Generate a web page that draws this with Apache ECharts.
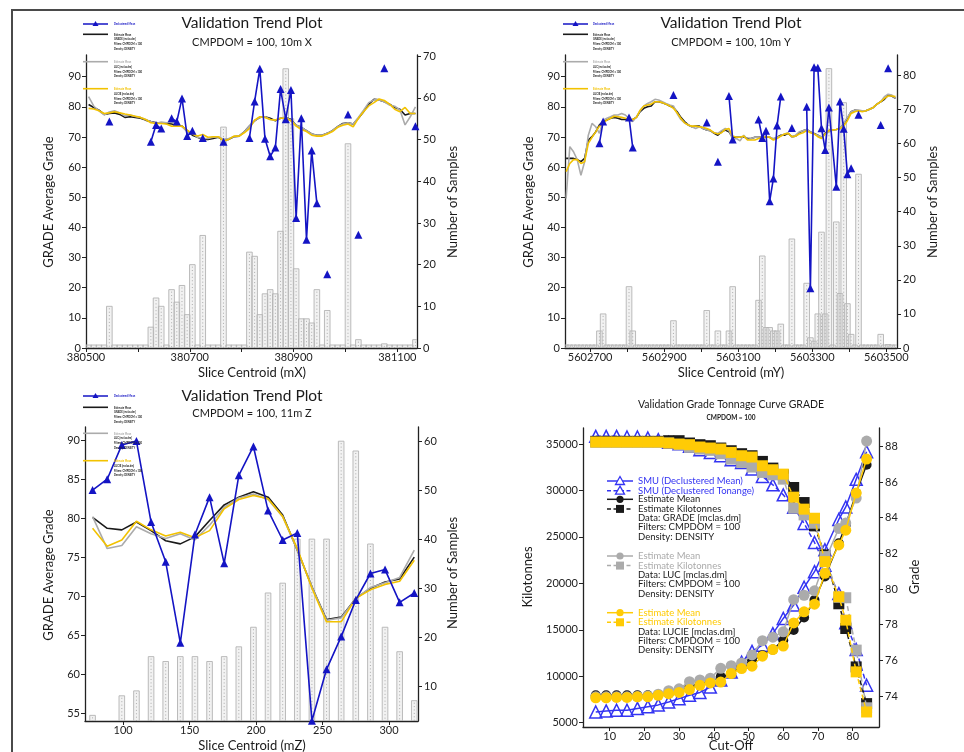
<!DOCTYPE html>
<html><head><meta charset="utf-8">
<script src="https://cdn.jsdelivr.net/npm/echarts@6/dist/echarts.min.js"></script>
<style>html,body{margin:0;padding:0;background:#fff}#c{width:964px;height:752px}</style>
</head><body><div id="c"></div><script>
// ---------- Panel 1 (X) ----------
const p1Slices = [380505,380515,380525,380535,380545,380555,380565,380575,380585,380595,380605,380615,380625,380635,380645,380655,380665,380675,380685,380695,380705,380715,380725,380735,380745,380755,380765,380775,380785,380795,380805,380815,380825,380835,380845,380855,380865,380875,380885,380895,380905,380915,380925,380935,380945,380955,380965,380975,380985,380995,381005,381015,381025,381035,381045,381055,381065,381075,381085,381095,381105,381115,381125,381135];
const p1Counts = [0,0,0,0,10,0,0,0,0,0,0,0,5,12,10,0,14,11,15,8,20,0,27,0,0,0,53,0,0,0,0,23,22,8,13,14,13,28,67,55,19,7,7,6,14,0,9,0,0,0,49,0,2,0,0,0,0,1,0,0,0,0,0,2];
const p1Black = [80.8,79.8,78.9,77.5,77.8,78.0,77.5,76.5,76.7,76.5,76.2,75.6,75.1,74.7,74.7,74.5,74.3,73.9,73.6,72.1,70.6,69.9,69.2,69.2,69.5,69.9,69.0,69.2,70.1,70.3,71.7,73.6,75.4,76.5,76.7,76.2,75.4,76.2,76.5,75.8,73.9,73.2,72.1,71.0,70.6,70.6,71.2,72.1,73.4,74.5,74.7,74.3,76.2,78.4,80.9,82.5,82.3,81.7,80.9,79.8,79.2,77.3,77.8,77.8];
const p1Gray = [83.4,80.2,78.7,77.3,78.3,78.7,78.0,77.0,77.3,76.8,76.5,75.8,75.1,74.5,75.0,74.7,75.0,74.3,73.4,71.8,71.2,69.9,69.5,69.5,69.9,70.1,69.2,69.5,70.1,70.3,71.7,73.6,75.4,76.5,76.7,75.8,75.6,76.2,76.5,75.6,73.9,73.2,72.1,71.0,70.6,70.6,71.2,72.1,73.4,74.3,74.7,74.3,76.5,78.9,81.4,82.3,82.3,81.7,80.6,80.2,79.0,74.0,76.7,80.0];
const p1Yellow = [79.5,79.3,78.7,77.8,78.0,78.4,78.0,77.6,77.3,76.9,76.5,75.8,74.7,74.5,74.5,74.3,73.6,73.6,73.6,72.3,71.0,70.3,70.8,69.9,70.1,70.1,68.7,69.2,70.3,70.3,71.4,72.8,75.6,76.7,76.5,75.8,75.6,76.2,76.2,75.4,73.6,72.5,71.8,70.6,70.3,70.3,71.0,71.8,73.2,73.9,74.3,73.4,76.2,78.4,80.3,81.4,82.6,82.1,80.9,79.2,78.4,79.8,77.8,77.8];
const p1DeclX = [380545,380555,380625,380635,380645,380655,380665,380675,380685,380695,380705,380715,380725,380735,380765,380775,380815,380825,380835,380845,380855,380865,380875,380885,380895,380905,380915,380925,380935,380945,380955,380965,380975,381005,381015,381025,381035,381075,381085,381135];
const p1DeclY = [75.1,null,68.4,74.0,72.8,null,76.2,75.1,82.8,70.3,72.1,null,69.7,null,68.4,null,69.7,81.8,92.6,69.4,63.6,66.5,85.9,75.9,85.6,43.1,76.2,35.9,65.5,48.0,null,24.5,null,77.5,null,37.6,null,92.8,null,73.6];
const p1XTicks = [380500,380600,380700,380800,380900,381000,381100];
const p1XLabels = [380500,380700,380900,381100];
const p1LeftTicks = [0,10,20,30,40,50,60,70,80,90];
const p1RightTicks = [0,10,20,30,40,50,60,70];

// ---------- Panel 2 (Y) ----------
const p2Slices = [5602635,5602645,5602655,5602665,5602675,5602685,5602695,5602705,5602715,5602725,5602735,5602745,5602755,5602765,5602775,5602785,5602795,5602805,5602815,5602825,5602835,5602845,5602855,5602865,5602875,5602885,5602895,5602905,5602915,5602925,5602935,5602945,5602955,5602965,5602975,5602985,5602995,5603005,5603015,5603025,5603035,5603045,5603055,5603065,5603075,5603085,5603095,5603105,5603115,5603125,5603135,5603145,5603155,5603165,5603175,5603185,5603195,5603205,5603215,5603225,5603235,5603245,5603255,5603265,5603275,5603285,5603295,5603305,5603315,5603325,5603335,5603345,5603355,5603365,5603375,5603385,5603395,5603405,5603415,5603425,5603435,5603445,5603455,5603465,5603475,5603485,5603495,5603505,5603515,5603525];
const p2Counts = [0,0,0,0,0,0,0,0,0,5,10,0,0,0,0,0,0,18,5,0,0,0,0,0,0,0,0,0,0,8,0,0,0,0,0,0,0,0,11,0,0,5,0,0,5,18,0,0,0,0,0,0,14,27,6,6,5,5,7,0,0,32,0,0,0,19,3,2,10,34,10,82,0,37,16,72,13,4,0,51,0,0,0,0,0,4,0,1,0,0];
const p2Black = [62.9,62.9,62.9,62.5,61.8,62.9,69.0,70.1,71.7,74.0,75.1,75.6,76.2,76.5,76.2,75.8,75.8,75.6,75.8,76.5,78.4,79.5,80.0,80.3,81.7,81.7,81.4,80.9,80.3,79.8,78.4,76.5,75.1,74.0,73.4,73.6,73.6,72.8,72.3,72.1,71.2,70.6,71.7,72.3,71.7,69.9,69.9,69.9,70.1,69.5,69.5,69.9,69.9,70.1,69.9,69.9,69.2,69.9,70.6,70.6,71.2,70.1,70.3,71.4,72.1,72.5,71.7,71.2,70.6,69.9,71.2,72.1,72.3,72.5,72.8,74.3,76.2,78.4,78.9,78.7,78.7,78.7,79.2,79.8,80.9,81.7,82.5,83.9,83.6,82.8];
const p2Gray = [49.6,66.8,65.1,62.5,57.3,61.8,70.6,74.5,73.4,71.2,75.6,76.2,76.7,77.3,77.3,77.8,77.3,76.2,75.1,76.7,78.7,80.3,81.1,81.7,82.5,82.3,81.7,81.1,80.6,80.3,77.8,75.8,74.7,74.0,73.4,72.8,73.4,72.8,72.3,72.1,71.4,71.2,72.1,72.8,72.1,69.2,69.5,68.7,70.6,69.2,69.5,69.9,69.9,70.1,70.1,69.9,69.5,69.9,70.3,71.0,71.4,69.9,70.6,71.7,72.1,72.5,71.7,71.0,70.6,69.9,71.0,71.7,72.3,72.5,72.8,74.5,76.5,78.4,78.9,78.9,78.7,78.7,79.2,79.8,80.9,81.7,83.4,84.2,83.9,82.8];
const p2Yellow = [58.5,61.2,62.5,62.5,61.2,61.8,67.9,69.9,71.7,73.6,74.7,75.6,76.2,76.9,76.7,76.5,76.2,75.8,75.8,76.5,78.9,80.3,80.6,80.9,81.7,81.7,81.4,80.9,80.3,79.5,78.0,76.2,74.7,74.0,73.6,73.6,73.4,73.2,72.8,72.3,71.4,71.0,71.4,72.5,72.8,70.3,69.9,69.9,70.3,69.0,69.0,69.0,69.5,69.9,70.1,69.9,69.0,69.5,70.3,71.0,71.2,70.1,70.3,71.0,71.4,72.1,71.4,71.0,70.1,69.5,71.0,72.1,72.3,72.5,72.8,73.6,75.4,77.8,78.4,78.7,78.4,78.7,79.2,79.8,80.9,81.7,82.8,83.6,83.6,83.4];
const p2DeclX = [5602725,5602735,5602745,5602805,5602815,5602825,5602925,5602935,5603015,5603025,5603045,5603055,5603075,5603085,5603095,5603155,5603165,5603175,5603185,5603195,5603205,5603215,5603225,5603245,5603255,5603285,5603295,5603305,5603315,5603325,5603335,5603345,5603365,5603375,5603385,5603395,5603405,5603415,5603425,5603435,5603485,5603495,5603505];
const p2DeclY = [67.9,75.1,null,76.5,66.5,null,83.9,null,74.8,null,61.8,null,83.6,69.2,null,75.8,69.7,72.1,48.7,56.2,73.8,83.4,null,73.0,null,80.0,19.8,93.1,93.0,72.9,65.7,79.8,53.5,81.8,72.7,57.6,59.6,null,77.4,null,74.0,null,92.8];
const p2XTicks = [5602700,5602800,5602900,5603000,5603100,5603200,5603300,5603400,5603500];
const p2XLabels = [5602700,5602900,5603100,5603300,5603500];
const p2LeftTicks = [0,10,20,30,40,50,60,70,80,90];
const p2RightTicks = [0,10,20,30,40,50,60,70,80];

// ---------- Panel 3 (Z) ----------
const p3Slices = [77,88,99,110,121,132,143,154,165,176,187,198,209,220,231,242,253,264,275,286,297,308,319];
const p3Counts = [4,2,8,9,16,15,16,16,15,16,18,22,29,31,40,40,40,60,58,39,22,17,7];
const p3Decl = [83.6,85.0,89.4,89.9,79.5,74.4,64.0,77.9,82.7,74.2,85.5,89.2,81.0,77.2,78.1,54.0,60.6,64.8,69.5,72.9,73.4,69.2,70.4];
const p3Black = [80.1,78.7,78.5,79.5,78.4,77.1,76.7,77.6,79.7,81.7,82.7,83.4,82.7,80.4,75.9,71.2,67.0,67.3,69.7,71.0,71.8,72.2,75.0];
const p3Gray = [80.2,76.1,76.5,78.9,78.0,77.4,78.0,77.2,79.1,81.4,82.6,83.1,82.4,80.2,75.9,71.2,66.9,67.2,69.7,71.1,71.7,72.4,75.9];
const p3Yellow = [78.7,76.4,77.2,79.6,78.5,77.7,78.2,77.5,78.4,81.2,82.4,82.9,82.5,80.2,76.1,71.0,66.7,66.7,69.7,70.8,71.5,71.9,74.6];
const p3XTicks = [100,150,200,250,300];
const p3LeftTicks = [55,60,65,70,75,80,85,90];
const p3RightTicks = [10,20,30,40,50,60];

// ---------- Panel 4 (Grade tonnage) ----------
const cutOffs = [6,9,12,15,18,21,24,27,30,33,36,39,42,45,48,51,54,57,60,63,66,69,72,76,78,81,84];
const smuMean = [73.1,73.16,73.2,73.2,73.3,73.4,73.5,73.66,73.85,74.04,74.2,74.5,74.9,75.35,75.9,76.5,76.85,77.5,78.35,79.1,80.1,80.97,82.2,83.9,84.6,86.15,87.7];
const smuTonnage = [35830,35830,35830,35760,35760,35650,35470,35180,35040,34750,34390,34100,33740,33310,33020,32300,31510,30610,29530,28200,26450,24400,21950,18900,15760,12880,9030];
const gradeMean = [74.04,74.04,74.04,74.04,74.04,74.04,74.04,74.13,74.28,74.54,74.7,74.84,75.07,75.26,75.67,76.0,76.29,76.6,77.13,77.7,78.4,79.38,80.7,82.57,83.6,85.38,86.97];
const gradeKt = [35290,35290,35290,35290,35290,35290,35290,35360,35360,35110,34930,34820,34570,34280,33960,33740,33130,32410,31690,30320,28700,26190,23060,17800,15140,11000,7050];
const lucMean = [73.95,73.95,73.95,73.95,73.97,74.0,74.1,74.3,74.4,74.8,74.9,75.0,75.55,75.7,75.85,76.3,77.1,77.3,77.6,79.4,79.65,79.9,81.6,83.4,83.7,85.1,88.3];
const lucKt = [35180,35180,35180,35180,35180,35180,35180,35110,34930,34640,34460,34320,33960,33380,33020,32520,31940,31690,31220,28090,27370,26470,22880,18500,18450,12810,6600];
const lucieMean = [73.9,73.9,73.92,73.92,73.95,73.95,74.04,74.13,74.2,74.36,74.6,74.73,74.78,75.26,75.54,75.67,76.23,76.6,76.8,78.1,78.72,79.15,80.88,82.47,83.3,85.38,87.29];
const lucieKt = [35215,35215,35215,35215,35215,35215,35215,35110,35000,34930,34680,34570,34460,34100,33740,33600,32660,32230,31760,29280,27990,27010,22340,18560,16040,10470,6150];
const p4XTicks = [10,20,30,40,50,60,70,80];
const p4LeftTicks = [5000,10000,15000,20000,25000,30000,35000];
const p4RightTicks = [74,76,78,80,82,84,86,88];

// ---------- styling ----------
const FONT = 'Lato, "Open Sans", sans-serif';
const BLUE = '#1414c4', BLUE4 = '#3434f2', BLACK = '#1a1a1a', GRAY = '#ababab', YEL = '#f2c200', YEL4 = '#ffcb05';
const AX = '#222';

function axisCommon(ticks, labels, margin) {
  return {
    axisLine: {show: true, onZero: false, lineStyle: {color: AX, width: 1.3}},
    axisTick: {show: true, length: 4, customValues: ticks, lineStyle: {color: AX, width: 1}},
    axisLabel: {customValues: labels, color: AX, fontSize: 11, fontFamily: FONT, margin: margin, formatter: v => String(v)},
    splitLine: {show: false}
  };
}
function xAx(g, min, max, ticks, labels) { return Object.assign({type: 'value', gridIndex: g, min, max, position: 'bottom'}, axisCommon(ticks, labels, 4)); }
function yAx(g, min, max, ticks, pos) { return Object.assign({type: 'value', gridIndex: g, min, max, position: pos}, axisCommon(ticks, ticks, pos === 'left' ? 5 : 6)); }

function bars(xi, yi, xs, counts, ymin, zeroMark) {
  return {
    type: 'custom', xAxisIndex: xi, yAxisIndex: yi, clip: true, z: 1,
    data: xs.map((x, i) => [x, counts[i]]),
    renderItem(params, api) {
      const x = api.value(0), v = api.value(1);
      if (v <= ymin && !(zeroMark && v === 0)) return;
      const p = api.coord([x, Math.max(v, ymin)]), b = api.coord([x, ymin]);
      let top = p[1];
      if (b[1] - top < 3) top = b[1] - 3;
      const w = 5.6;
      return {type: 'group', children: [
        {type: 'rect', shape: {x: p[0] - w / 2, y: top, width: w, height: b[1] - top}, style: {fill: 'rgba(215,215,215,0.32)', stroke: '#b3b3b3', lineWidth: 0.9}},
        {type: 'line', shape: {x1: p[0], y1: top + 2, x2: p[0], y2: b[1]}, style: {stroke: '#9a9a9a', lineWidth: 0.8, lineDash: [1, 2.4]}}
      ]};
    }
  };
}
function estLine(xi, yi, xs, ys, color, z) {
  return {type: 'line', xAxisIndex: xi, yAxisIndex: yi, data: xs.map((x, i) => [x, ys[i]]), symbol: 'none', lineStyle: {color, width: 1.6}, z, clip: true, silent: true};
}
function declLine(xi, yi, xs, ys) {
  return {type: 'line', xAxisIndex: xi, yAxisIndex: yi, data: xs.map((x, i) => [x, ys[i] == null ? null : ys[i]]), symbol: 'triangle', symbolSize: 8, showAllSymbol: true, connectNulls: false,
    lineStyle: {color: BLUE, width: 1.6}, itemStyle: {color: BLUE}, z: 6, clip: true, silent: true};
}
function gtLine(yi, ys, color, symbol, size, dashed, hollow, z) {
  return {type: 'line', xAxisIndex: 3, yAxisIndex: yi, data: cutOffs.map((c, i) => [c, ys[i]]), symbol, symbolSize: size, showAllSymbol: true,
    lineStyle: {color, width: 1.5, type: dashed ? [5, 3] : 'solid'},
    itemStyle: hollow ? {color: 'rgba(0,0,0,0)', borderColor: color, borderWidth: 1.5} : {color, borderWidth: 0},
    z, silent: true};
}

// ---------- graphics (titles, axis names, legends, frame) ----------
const G = [];
G.push({type: 'rect', shape: {x: 12, y: 10, width: 1000, height: 800}, style: {fill: 'none', stroke: '#4a4a4a', lineWidth: 2}, z: 0});
function txt(x, y, s, size, color, opts) {
  G.push(Object.assign({type: 'text', x, y, style: {text: s, fontSize: size, fontFamily: FONT, fill: color || '#1a1a1a', align: 'center', verticalAlign: 'middle'}, z: 10}, opts || {}));
}
function vtxt(x, y, s, size) { txt(x, y, s, size, '#1a1a1a', {rotation: Math.PI / 2}); }

// titles
txt(252, 23, 'Validation Trend Plot', 15.5); txt(252, 42, 'CMPDOM = 100, 10m X', 11);
txt(731, 23, 'Validation Trend Plot', 15.5); txt(731, 42, 'CMPDOM = 100, 10m Y', 11);
txt(252, 396, 'Validation Trend Plot', 15.5); txt(252, 413, 'CMPDOM = 100, 11m Z', 11);
txt(731, 405, 'Validation Grade Tonnage Curve GRADE', 10.5); txt(731, 418, 'CMPDOM = 100', 6.5, '#1a1a1a', {style: {text: 'CMPDOM = 100', fontSize: 6.5, fontWeight: 'bold', fontFamily: FONT, fill: '#1a1a1a', align: 'center', verticalAlign: 'middle'}});
// axis names
vtxt(49, 202, 'GRADE Average Grade', 13); vtxt(453, 202, 'Number of Samples', 13); txt(252, 373, 'Slice Centroid (mX)', 13);
vtxt(529, 202, 'GRADE Average Grade', 13); vtxt(933, 202, 'Number of Samples', 13); txt(731, 373, 'Slice Centroid (mY)', 13);
vtxt(49, 575, 'GRADE Average Grade', 13); vtxt(453, 573, 'Number of Samples', 13); txt(252, 746, 'Slice Centroid (mZ)', 13);
vtxt(528, 577, 'Kilotonnes', 13); vtxt(915, 577, 'Grade', 13); txt(731, 746, 'Cut-Off', 13);

// tiny legends for trend plots
function tinyLegend(lx, tx, yB, yK, yG, yY) {
  G.push({type: 'line', shape: {x1: lx, y1: yB, x2: lx + 25, y2: yB}, style: {stroke: BLUE, lineWidth: 1.5}, z: 10});
  G.push({type: 'polygon', shape: {points: [[lx + 12.5, yB - 3], [lx + 9.5, yB + 2], [lx + 15.5, yB + 2]]}, style: {fill: BLUE}, z: 10});
  const t = (y, s, c) => G.push({type: 'text', x: tx, y, scaleX: 0.62, style: {text: s, fontSize: 4.2, fontFamily: FONT, fontWeight: 'bold', fill: c, align: 'left', verticalAlign: 'middle'}, z: 10});
  t(yB, 'Declustered Mean', BLUE);
  const groups = [[yK, BLACK, 'GRADE [mclas.dm]'], [yG, GRAY, 'LUC [mclas.dm]'], [yY, YEL, 'LUCIE [mclas.dm]']];
  groups.forEach(([y, c, d]) => {
    G.push({type: 'line', shape: {x1: lx, y1: y, x2: lx + 25, y2: y}, style: {stroke: c, lineWidth: 1.6}, z: 10});
    t(y, 'Estimate Mean', c); t(y + 4.8, d, '#222'); t(y + 9.6, 'Filters: CMPDOM = 100', '#222'); t(y + 14.4, 'Density: DENSITY', '#222');
  });
}
tinyLegend(83, 114, 24, 34.3, 61.7, 88.7);
tinyLegend(563, 593, 24, 34.3, 61.7, 88.7);
tinyLegend(83, 114, 396, 407.3, 433.3, 460.7);

// grade tonnage legend
(function () {
  const lx = 607, mx = 620, tx = 638;
  const ln = (y, c, dashed) => G.push({type: 'line', shape: {x1: lx, y1: y, x2: lx + 26, y2: y}, style: {stroke: c, lineWidth: 1.5, lineDash: dashed ? [4, 2.5] : null}, z: 10});
  const t = (y, s, c) => G.push({type: 'text', x: tx, y, style: {text: s, fontSize: 9.5, fontFamily: FONT, fill: c, align: 'left', verticalAlign: 'middle'}, z: 10});
  const tri = (y, c) => G.push({type: 'polygon', shape: {points: [[mx, y - 4.5], [mx - 4.5, y + 3.5], [mx + 4.5, y + 3.5]]}, style: {fill: '#fff', stroke: c, lineWidth: 1.3}, z: 11});
  const circ = (y, c) => G.push({type: 'circle', shape: {cx: mx, cy: y, r: 3.6}, style: {fill: c}, z: 11});
  const sq = (y, c) => G.push({type: 'rect', shape: {x: mx - 4, y: y - 4, width: 8, height: 8}, style: {fill: c}, z: 11});
  ln(481, BLUE4, false); tri(481, BLUE4); t(481, 'SMU (Declustered Mean)', BLUE4);
  ln(490.7, BLUE4, true); tri(490.7, BLUE4); t(490.7, 'SMU (Declustered Tonange)', BLUE4);
  const grp = [[499.3, BLACK, BLACK, 'Data: GRADE [mclas.dm]'], [556, GRAY, GRAY, 'Data: LUC [mclas.dm]'], [612.7, YEL4, YEL4, 'Data: LUCIE [mclas.dm]']];
  grp.forEach(([y, c, tc, d]) => {
    ln(y, c, false); circ(y, c); t(y, 'Estimate Mean', tc);
    const y2 = y + 9.6;
    ln(y2, c, true); sq(y2, c); t(y2, 'Estimate Kilotonnes', tc);
    t(y2 + 9.2, d, BLACK); t(y2 + 18.5, 'Filters: CMPDOM = 100', BLACK); t(y2 + 27.9, 'Density: DENSITY', BLACK);
  });
})();

const option = {
  animation: false,
  backgroundColor: '#fff',
  grid: [
    {left: 86, top: 55, width: 331, height: 293},
    {left: 565, top: 55, width: 332, height: 293},
    {left: 85, top: 427, width: 333, height: 294},
    {left: 583, top: 428, width: 296, height: 299}
  ],
  xAxis: [
    xAx(0, 380500, 381138, p1XTicks, p1XLabels),
    xAx(1, 5602632, 5603529, p2XTicks, p2XLabels),
    xAx(2, 71.3, 321.8, p3XTicks, p3XTicks),
    xAx(3, 2.33, 87.57, p4XTicks, p4XTicks)
  ],
  yAxis: [
    yAx(0, 0, 97.2, p1LeftTicks, 'left'),
    yAx(0, 0, 70.3, p1RightTicks, 'right'),
    yAx(1, 0, 97.2, p2LeftTicks, 'left'),
    yAx(1, 0, 86, p2RightTicks, 'right'),
    yAx(2, 53.97, 91.7, p3LeftTicks, 'left'),
    yAx(2, 2.85, 62.9, p3RightTicks, 'right'),
    yAx(3, 4532, 36727, p4LeftTicks, 'left'),
    yAx(3, 72.26, 89.03, p4RightTicks, 'right')
  ],
  graphic: {elements: G},
  series: [
    bars(0, 1, p1Slices, p1Counts, 0, true),
    estLine(0, 0, p1Slices, p1Black, BLACK, 3),
    estLine(0, 0, p1Slices, p1Gray, GRAY, 4),
    estLine(0, 0, p1Slices, p1Yellow, YEL, 5),
    declLine(0, 0, p1DeclX, p1DeclY),

    bars(1, 3, p2Slices, p2Counts, 0, true),
    estLine(1, 2, p2Slices, p2Black, BLACK, 3),
    estLine(1, 2, p2Slices, p2Gray, GRAY, 4),
    estLine(1, 2, p2Slices, p2Yellow, YEL, 5),
    declLine(1, 2, p2DeclX, p2DeclY),

    bars(2, 5, p3Slices, p3Counts, 2.85, false),
    estLine(2, 4, p3Slices, p3Black, BLACK, 3),
    estLine(2, 4, p3Slices, p3Gray, GRAY, 4),
    estLine(2, 4, p3Slices, p3Yellow, YEL, 5),
    declLine(2, 4, p3Slices, p3Decl),

    gtLine(7, smuMean, BLUE4, 'triangle', 12, false, true, 2),
    gtLine(6, smuTonnage, BLUE4, 'triangle', 12, true, true, 2),
    gtLine(7, gradeMean, BLACK, 'circle', 10, false, false, 3),
    gtLine(6, gradeKt, BLACK, 'rect', 11, true, false, 3),
    gtLine(7, lucMean, GRAY, 'circle', 11, false, false, 4),
    gtLine(6, lucKt, GRAY, 'rect', 11, true, false, 4),
    gtLine(7, lucieMean, YEL4, 'circle', 11, false, false, 5),
    gtLine(6, lucieKt, YEL4, 'rect', 11, true, false, 5)
  ]
};
const chart = echarts.init(document.getElementById('c'), null, {renderer: 'canvas'});
chart.setOption(option);
</script></body></html>
